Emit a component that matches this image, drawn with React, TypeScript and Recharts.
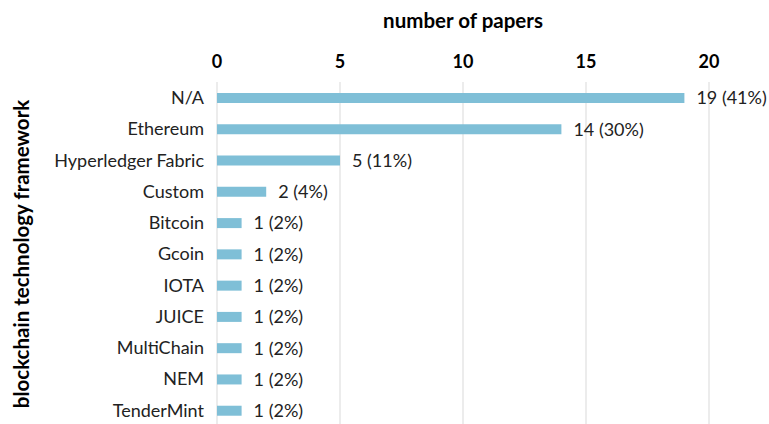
import React from 'react';
import { BarChart, Bar, XAxis, YAxis, CartesianGrid, LabelList } from 'recharts';

const frameworks = [
  'N/A',
  'Ethereum',
  'Hyperledger Fabric',
  'Custom',
  'Bitcoin',
  'Gcoin',
  'IOTA',
  'JUICE',
  'MultiChain',
  'NEM',
  'TenderMint',
];
const paperCounts = [19, 14, 5, 2, 1, 1, 1, 1, 1, 1, 1];
const paperShares = [41, 30, 11, 4, 2, 2, 2, 2, 2, 2, 2];
const xTicks = [0, 5, 10, 15, 20];

const FONT = 'Lato, "Open Sans", sans-serif';

const data = frameworks.map((name, i) => ({
  name,
  count: paperCounts[i],
  label: `${paperCounts[i]} (${paperShares[i]}%)`,
}));

export default function App() {
  return (
    <div style={{ position: 'absolute', left: 0, top: 0, width: 769, height: 424, overflow: 'hidden', background: '#fff' }}>
      <BarChart
        width={769}
        height={426}
        data={data}
        layout="vertical"
        margin={{ top: 0, right: 60, bottom: 0, left: 0 }}
        barCategoryGap={0}
      >
        <CartesianGrid horizontal={false} stroke="#d9d9d9" />
        <XAxis
          type="number"
          orientation="top"
          domain={[0, 20]}
          ticks={xTicks}
          height={82}
          axisLine={false}
          tickLine={false}
          tickMargin={8}
          tick={{ fontFamily: FONT, fontSize: 18, fontWeight: 700, fill: '#000' }}
          label={{
            value: 'number of papers',
            position: 'insideTop',
            offset: 13,
            style: { fontFamily: FONT, fontSize: 20.5, fontWeight: 700, fill: '#000' },
          }}
        />
        <YAxis
          type="category"
          dataKey="name"
          width={217}
          axisLine={false}
          tickLine={false}
          tickMargin={7}
          tick={{ fontFamily: FONT, fontSize: 18, fill: '#222' }}
          label={{
            value: 'blockchain technology framework',
            angle: -90,
            position: 'insideLeft',
            offset: 22,
            style: { fontFamily: FONT, fontSize: 20.5, fontWeight: 700, fill: '#000', textAnchor: 'middle' },
          }}
        />
        <Bar dataKey="count" fill="#7fbfd7" barSize={10} isAnimationActive={false}>
          <LabelList
            dataKey="label"
            position="right"
            offset={12}
            style={{ fontFamily: FONT, fontSize: 18, fill: '#222' }}
          />
        </Bar>
      </BarChart>
    </div>
  );
}
